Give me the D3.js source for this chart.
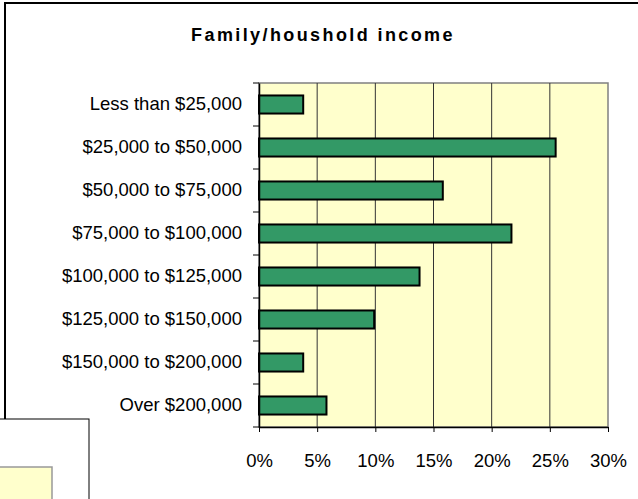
<!DOCTYPE html>
<html>
<head>
<meta charset="utf-8">
<script src="https://cdn.jsdelivr.net/npm/d3@7"></script>
<style>
    html, body { margin: 0; padding: 0; background: #fff; overflow: hidden; }
    svg { display: block; font-family: "Liberation Sans", Arial, sans-serif; }
</style>
</head>
<body>
<div id="chart"></div>
<script>
// Income brackets, top to bottom
const categories = [
    'Less than $25,000',
    '$25,000 to $50,000',
    '$50,000 to $75,000',
    '$75,000 to $100,000',
    '$100,000 to $125,000',
    '$125,000 to $150,000',
    '$150,000 to $200,000',
    'Over $200,000'
];

// Share of respondents (%)
const shares = [3.8, 25.5, 15.8, 21.7, 13.8, 9.9, 3.8, 5.8];

const xTicks = [0, 5, 10, 15, 20, 25, 30];

const width = 638;
const height = 499;

const svg = d3.select('#chart')
    .append('svg')
    .attr('width', width)
    .attr('height', height);

// Outer chart frame (runs off the right and bottom edges)
svg.append('rect')
    .attr('x', 5)
    .attr('y', 3)
    .attr('width', 700)
    .attr('height', 600)
    .attr('fill', '#fff')
    .attr('stroke', '#000')
    .attr('stroke-width', 2);

// Plot area
const plot = {left: 259, top: 83, right: 608, bottom: 427};

const x = d3.scaleLinear()
    .domain([0, 30])
    .range([plot.left, plot.right]);

const y = d3.scaleBand()
    .domain(categories)
    .range([plot.top, plot.bottom])
    .paddingInner(0.58)
    .paddingOuter(0.29);

svg.append('rect')
    .attr('x', plot.left)
    .attr('y', plot.top)
    .attr('width', plot.right - plot.left)
    .attr('height', plot.bottom - plot.top)
    .attr('fill', '#ffffcc')
    .attr('stroke', '#808080')
    .attr('stroke-width', 1.5);

// Vertical grid lines
svg.selectAll('.grid-line')
    .data(xTicks.slice(1, -1))
    .enter()
    .append('line')
    .attr('class', 'grid-line')
    .attr('x1', d => x(d))
    .attr('x2', d => x(d))
    .attr('y1', plot.top)
    .attr('y2', plot.bottom)
    .attr('stroke', '#333')
    .attr('stroke-width', 1);

// Bars
svg.selectAll('.bar')
    .data(categories)
    .enter()
    .append('rect')
    .attr('class', 'bar')
    .attr('x', x(0))
    .attr('y', d => y(d))
    .attr('width', (d, i) => x(shares[i]) - x(0))
    .attr('height', y.bandwidth())
    .attr('fill', '#339966')
    .attr('stroke', '#000')
    .attr('stroke-width', 2);

// X axis
const xAxis = svg.append('g')
    .attr('transform', `translate(0, ${plot.bottom})`)
    .call(d3.axisBottom(x)
        .tickValues(xTicks)
        .tickFormat(d => d + '%')
        .tickSize(5)
        .tickSizeOuter(0)
        .tickPadding(22));

// Y axis with ticks between categories
const yAxis = svg.append('g')
    .attr('transform', `translate(${plot.left}, 0)`)
    .call(d3.axisLeft(y).tickSize(0).tickPadding(17));

const step = (plot.bottom - plot.top) / categories.length;
yAxis.selectAll('.sep')
    .data(d3.range(categories.length + 1))
    .enter()
    .append('line')
    .attr('class', 'sep')
    .attr('x1', -6)
    .attr('x2', 0)
    .attr('y1', d => plot.top + d * step)
    .attr('y2', d => plot.top + d * step)
    .attr('stroke', '#000');

svg.selectAll('.domain')
    .attr('stroke', '#000')
    .attr('stroke-width', 1.5);

svg.selectAll('.tick line')
    .attr('stroke', '#000');

svg.selectAll('.tick text')
    .attr('fill', '#000')
    .attr('font-family', '"Liberation Sans", Arial, sans-serif')
    .attr('font-size', '18.5px');

// Title
svg.append('text')
    .attr('x', 323)
    .attr('y', 41)
    .attr('text-anchor', 'middle')
    .attr('font-size', '18px')
    .attr('font-weight', 'bold')
    .attr('letter-spacing', '2.4px')
    .text('Family/houshold income');

// Overlapping box in the lower left corner
svg.append('rect')
    .attr('x', -2)
    .attr('y', 419)
    .attr('width', 91)
    .attr('height', 100)
    .attr('fill', '#fff')
    .attr('stroke', '#000')
    .attr('stroke-width', 1);

svg.append('rect')
    .attr('x', -2)
    .attr('y', 467)
    .attr('width', 54)
    .attr('height', 60)
    .attr('fill', '#ffffcc')
    .attr('stroke', '#999')
    .attr('stroke-width', 1.5);
</script>
</body>
</html>
